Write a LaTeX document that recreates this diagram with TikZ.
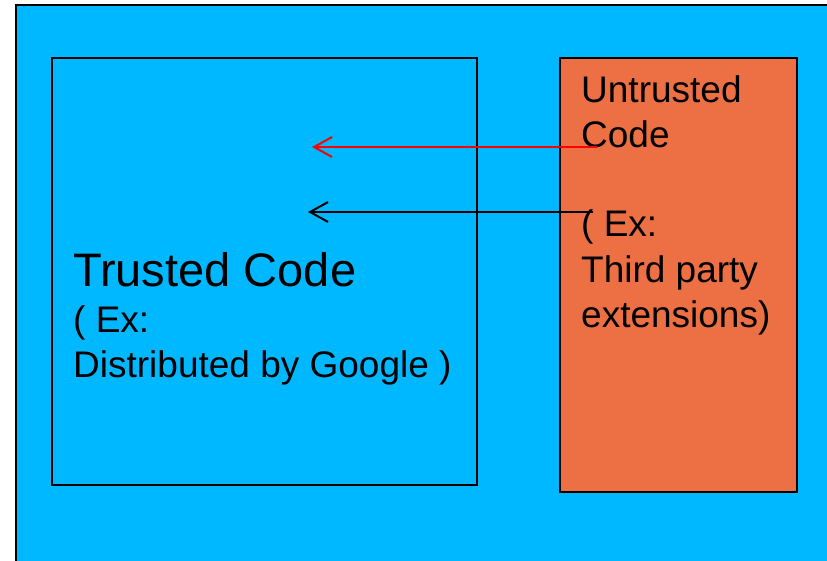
\documentclass[tikz,border=0pt]{standalone}
\usepackage{fontspec}
\setmainfont{Liberation Sans}
\usepackage{xcolor}
\usetikzlibrary{arrows.meta}
\definecolor{skyblue}{RGB}{0,184,255}
\definecolor{brickorange}{RGB}{236,112,68}
\tikzset{
  codebox/.style={draw=black, line width=1.4pt},
  codetext/.style={anchor=base west, inner sep=0pt, align=left},
  callarrow/.style={line width=2pt, -{Straight Barb[length=18pt, width=20pt, line width=2pt]}}
}

\begin{document}
\begin{tikzpicture}[x=1pt, y=-1pt]
  \useasboundingbox (0,0) rectangle (827,561);
  \clip (0,0) rectangle (827,561);
  % background panel
  \draw[fill=skyblue, line width=2pt] (16,5) rectangle (850,590);

  % the two code areas
  \draw[codebox, fill=skyblue] (52,58) rectangle (477,485);
  \draw[codebox, fill=brickorange] (560,58) rectangle (797,492);

  % labels
  \node[codetext, font=\fontsize{47}{47}\selectfont] (trusted) at (73,287) {Trusted Code};
  \node[codetext, font=\fontsize{37}{37}\selectfont] (trustedex) at (73,332) {( Ex:};
  \node[codetext, font=\fontsize{37}{37}\selectfont] (google) at (73,377) {Distributed by Google )};

  \node[codetext, font=\fontsize{37}{37}\selectfont] (untrusted) at (581,103) {Untrusted};
  \node[codetext, font=\fontsize{37}{37}\selectfont] (ucode) at (581,148) {Code};
  \node[codetext, font=\fontsize{37}{37}\selectfont] (uex) at (581,237) {( Ex:};
  \node[codetext, font=\fontsize{37}{37}\selectfont] (third) at (581,283) {Third party};
  \node[codetext, font=\fontsize{37}{37}\selectfont] (ext) at (581,327) {extensions)};

  % calls from untrusted into trusted code
  \coordinate (redfrom) at (597,147);
  \coordinate (redto) at (312,147);
  \coordinate (blackfrom) at (593,212);
  \coordinate (blackto) at (308,212);
  \draw[callarrow, red] (redfrom) -- (redto);
  \draw[callarrow, black] (blackfrom) -- (blackto);
\end{tikzpicture}
\end{document}
